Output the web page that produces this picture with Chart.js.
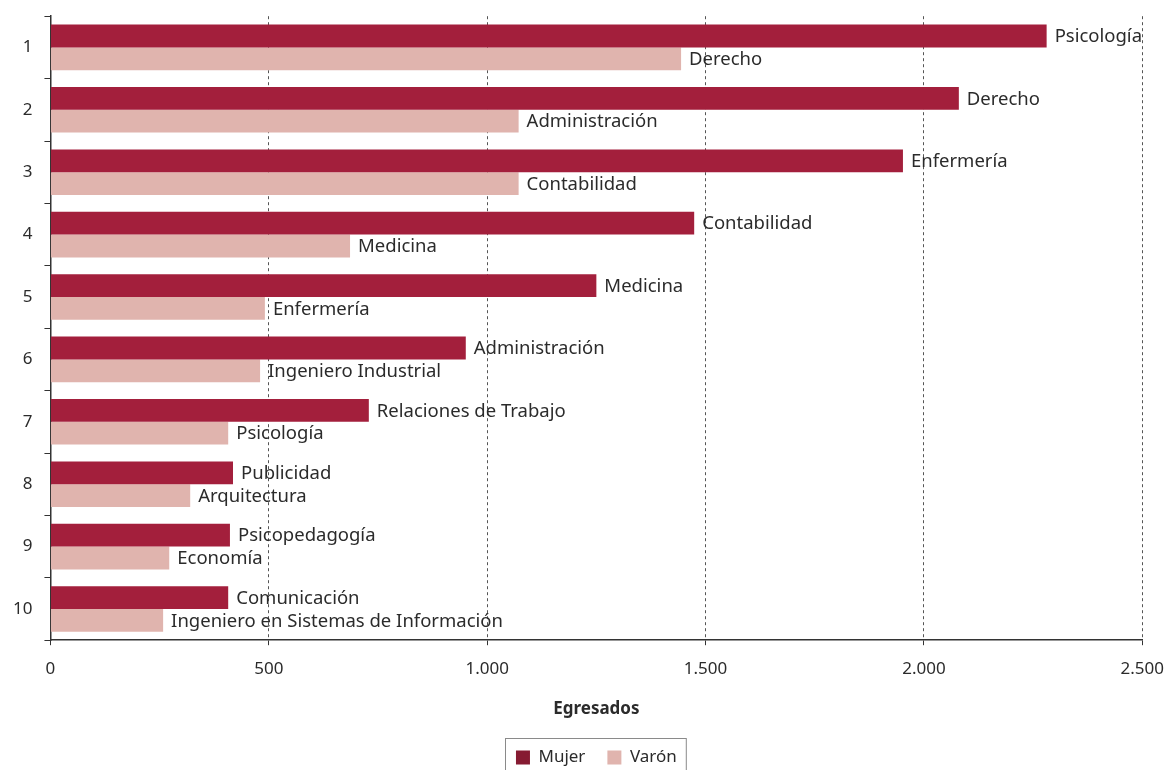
<!DOCTYPE html>
<html>
<head>
<meta charset="utf-8">
<script src="https://cdn.jsdelivr.net/npm/chart.js@4.4.1/dist/chart.umd.min.js"></script>
<style>
  html, body { margin: 0; padding: 0; background: #fff; overflow: hidden; }
  #wrap { width: 1167px; height: 770px; overflow: hidden; position: relative; }
  #chart { position: absolute; left: 0; top: -6px; }
</style>
</head>
<body>
<div id="wrap"><canvas id="chart" width="1178" height="800"></canvas></div>
<script>
// Ranking positions (y axis)
const ranks = ['1', '2', '3', '4', '5', '6', '7', '8', '9', '10'];

// Graduates per career, women
const mujerValues = [2281, 2080, 1952, 1474, 1250, 951, 729, 418, 411, 407];
const mujerCareers = ['Psicología', 'Derecho', 'Enfermería', 'Contabilidad', 'Medicina',
    'Administración', 'Relaciones de Trabajo', 'Publicidad', 'Psicopedagogía', 'Comunicación'];

// Graduates per career, men
const varonValues = [1444, 1072, 1072, 686, 491, 480, 407, 320, 272, 258];
const varonCareers = ['Derecho', 'Administración', 'Contabilidad', 'Medicina', 'Enfermería',
    'Ingeniero Industrial', 'Psicología', 'Arquitectura', 'Economía', 'Ingeniero en Sistemas de Información'];

const FONT = '"Noto Sans", sans-serif';
const TEXT = '#2b2b2b';

// Draws the career name to the right of each bar
const barLabels = {
    id: 'barLabels',
    afterDatasetsDraw(chart) {
        const ctx = chart.ctx;
        const names = [mujerCareers, varonCareers];
        ctx.save();
        ctx.font = '18.5px ' + FONT;
        ctx.fillStyle = TEXT;
        ctx.textBaseline = 'middle';
        ctx.textAlign = 'left';
        chart.data.datasets.forEach((ds, i) => {
            chart.getDatasetMeta(i).data.forEach((bar, j) => {
                ctx.fillText(names[i][j], bar.x + 8, bar.y + 1);
            });
        });
        ctx.restore();
    }
};

// Frame around the legend
const legendFrame = {
    id: 'legendFrame',
    afterDraw(chart) {
        const boxes = chart.legend.legendHitBoxes;
        if (!boxes || !boxes.length) return;
        const first = boxes[0];
        const last = boxes[boxes.length - 1];
        const ctx = chart.ctx;
        ctx.save();
        ctx.strokeStyle = '#8a8a8a';
        ctx.lineWidth = 1;
        ctx.strokeRect(Math.round(first.left) - 10.5, Math.round(first.top) - 10.5,
            last.left + last.width - first.left + 20, first.height + 40);
        ctx.restore();
    }
};

new Chart(document.getElementById('chart'), {
    type: 'bar',
    data: {
        labels: ranks,
        datasets: [{
            label: 'Mujer',
            data: mujerValues,
            backgroundColor: '#a31f3c',
            categoryPercentage: 0.73,
            barPercentage: 1
        }, {
            label: 'Varón',
            data: varonValues,
            backgroundColor: '#e0b4ae',
            categoryPercentage: 0.73,
            barPercentage: 1
        }]
    },
    options: {
        indexAxis: 'y',
        responsive: false,
        animation: false,
        layout: {
            padding: { left: 1, right: 16, top: 8, bottom: 18 }
        },
        scales: {
            x: {
                min: 0,
                max: 2500,
                ticks: {
                    stepSize: 500,
                    padding: 14,
                    color: TEXT,
                    font: { family: FONT, size: 17 },
                    callback: v => v.toLocaleString('de-DE')
                },
                grid: {
                    color: '#555',
                    tickBorderDash: [],
                    tickLength: 5,
                    tickColor: '#333'
                },
                border: { color: '#333', width: 1.5, dash: [3, 3] },
                title: {
                    display: true,
                    text: 'Egresados',
                    color: TEXT,
                    font: { family: FONT, size: 17, weight: 'bold' },
                    padding: { top: 5, bottom: 8 }
                }
            },
            y: {
                ticks: {
                    padding: 12,
                    color: TEXT,
                    font: { family: FONT, size: 17 }
                },
                grid: {
                    drawOnChartArea: false,
                    drawTicks: true,
                    tickLength: 6,
                    color: '#333'
                },
                border: { color: '#333', width: 1.5 }
            }
        },
        plugins: {
            legend: {
                position: 'bottom',
                fullSize: false,
                labels: {
                    boxWidth: 14,
                    boxHeight: 14,
                    padding: 22,
                    color: TEXT,
                    font: { family: FONT, size: 17 },
                    generateLabels(chart) {
                        const items = Chart.defaults.plugins.legend.labels.generateLabels(chart);
                        items[0].fillStyle = '#861b32';
                        return items;
                    }
                }
            },
            tooltip: { enabled: false }
        }
    },
    plugins: [barLabels, legendFrame]
});
</script>
</body>
</html>
